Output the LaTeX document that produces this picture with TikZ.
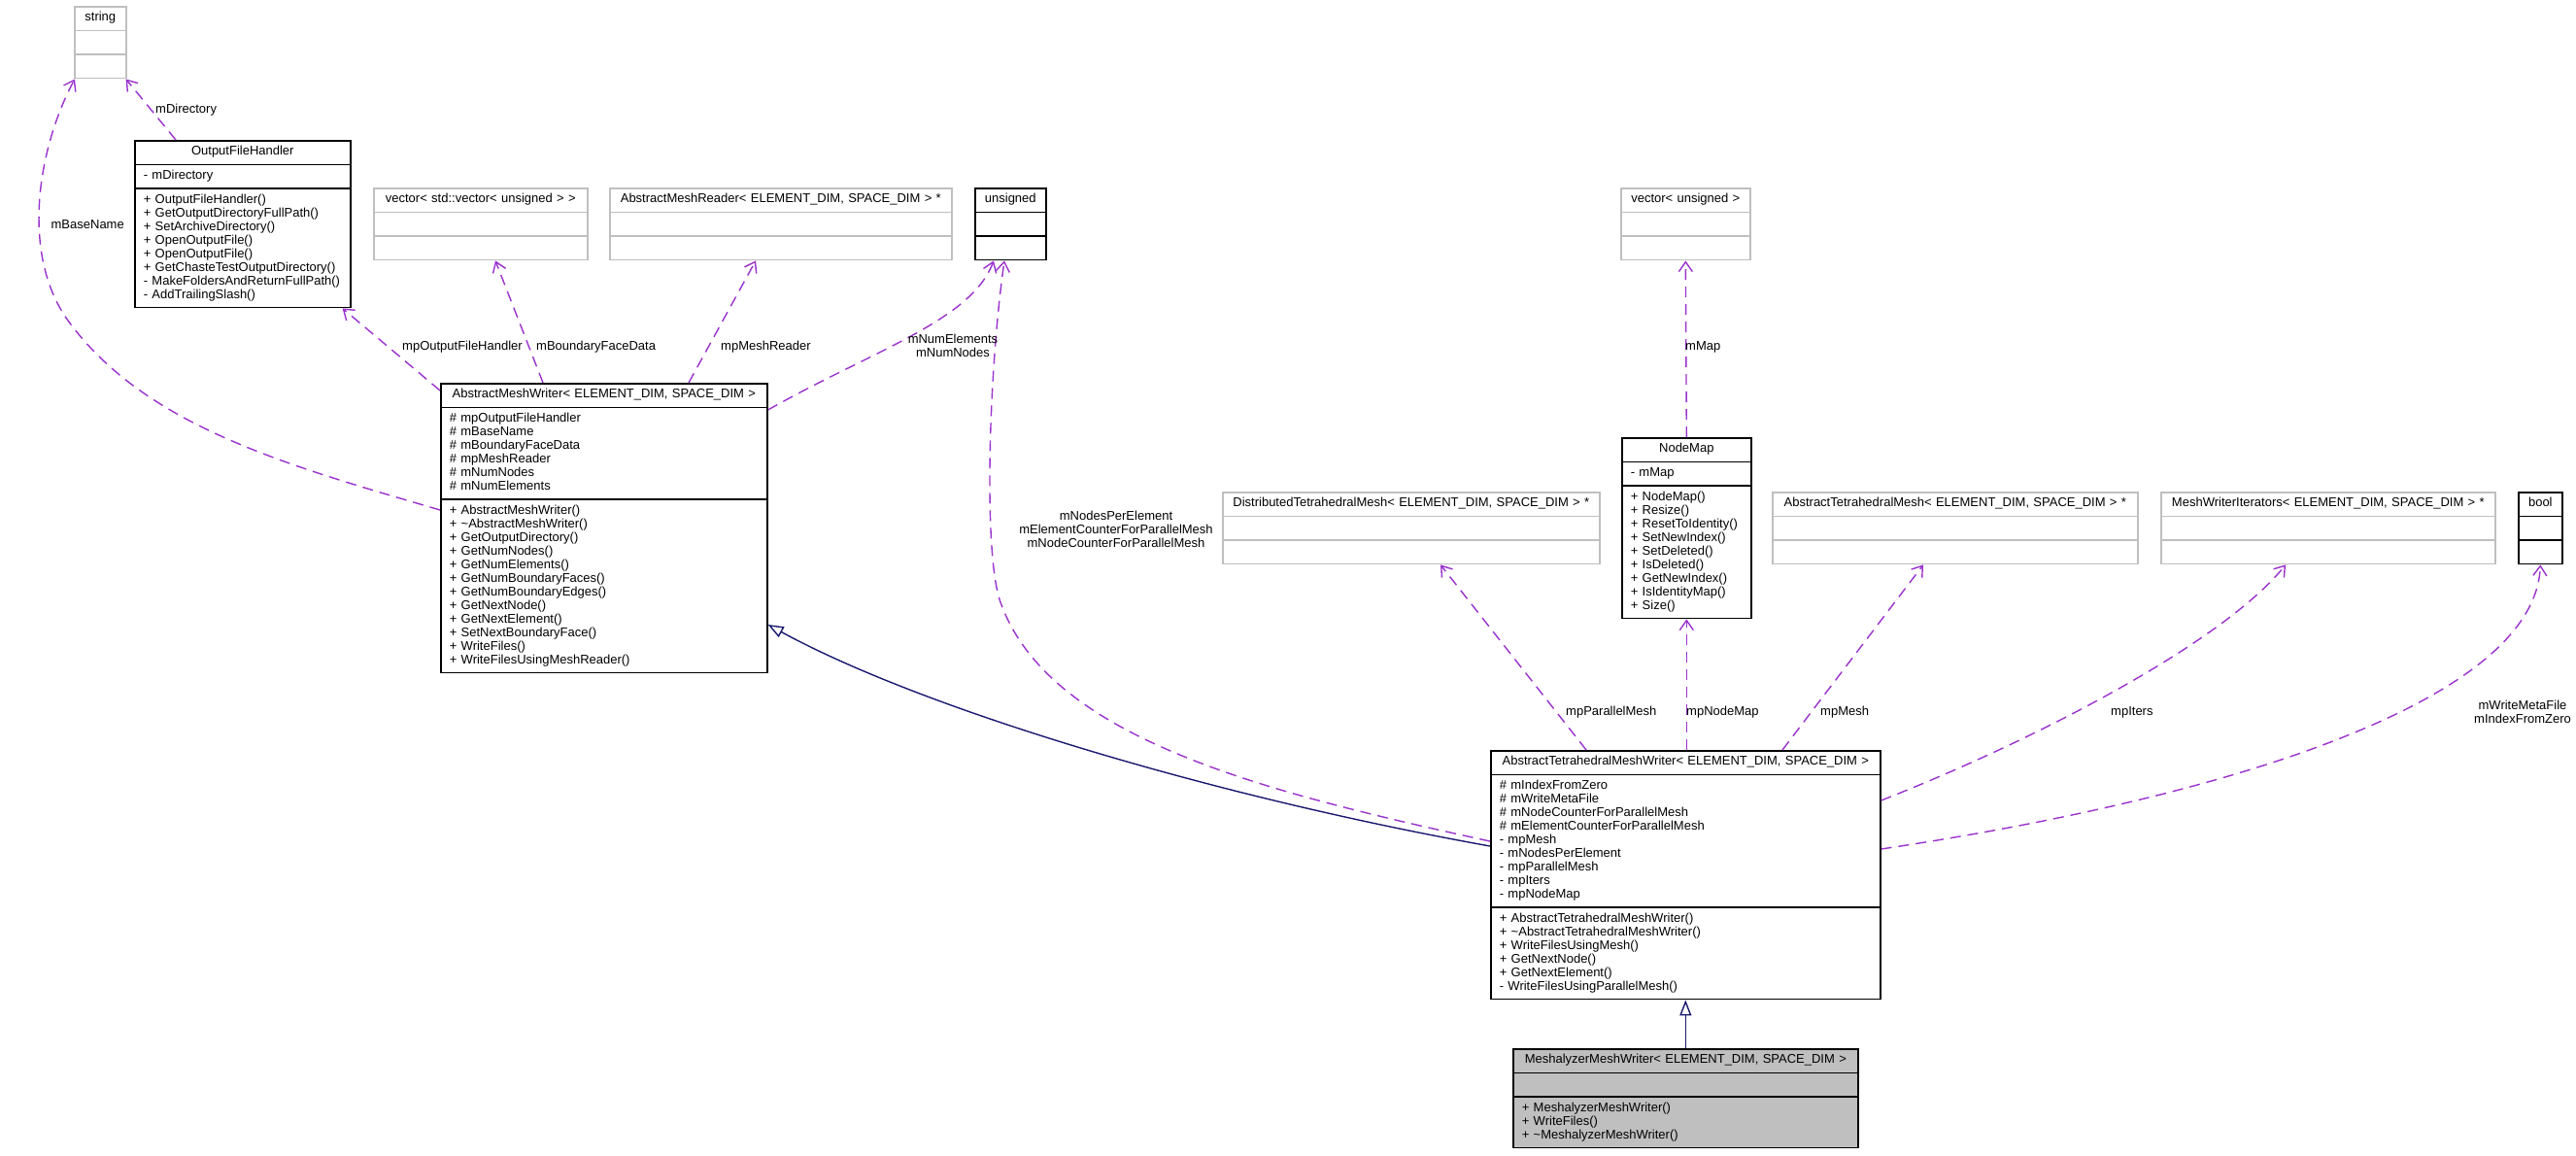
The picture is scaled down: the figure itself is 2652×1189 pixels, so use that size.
\documentclass[tikz,border=0pt]{standalone}
\usepackage{fontspec}
\setmainfont{Liberation Sans}
\usetikzlibrary{shapes.multipart, arrows.meta, calc}

\definecolor{relpurple}{RGB}{154,50,205}
\definecolor{inhnavy}{RGB}{25,25,112}
\definecolor{extgray}{RGB}{191,191,191}
\definecolor{selfgray}{RGB}{191,191,191}

\newcommand{\umltitle}[1]{\strut\hfill\mbox{#1}\hfill\strut}
\newcommand{\umlpart}[1]{\strut#1\strut}

\begin{document}
\begin{tikzpicture}[
		x=1pt, y=-1pt,
		umlfont/.style={font=\fontsize{13pt}{14pt}\selectfont},
		cls/.style={umlfont, draw=black, line width=1.6pt, fill=white, rectangle split, rectangle split parts=3, anchor=north west, inner xsep=9pt, inner ysep=4.5pt, align=left},
		extcls/.style={cls, draw=extgray},
		lbl/.style={umlfont, align=center, inner sep=0pt},
		rel/.style={relpurple, line width=1.4pt, dash pattern=on 11pt off 7pt, -{Straight Barb[length=10pt,width=14pt]}},
		inh/.style={inhnavy, line width=1.4pt, -{Triangle[open, length=16pt, width=12pt, fill=white]}}
		]
		\useasboundingbox (0,0) rectangle (2652,1189);
		
		% Classes
		\node[extcls, text width=35pt] (str) at (76,6) {\umltitle{string}\nodepart{second}\strut\nodepart{third}\strut};
		
		\node[cls, text width=204pt] (ofh) at (138,144) {\umltitle{OutputFileHandler}
			\nodepart{second}\umlpart{-~mDirectory}
			\nodepart{third}\umlpart{+~OutputFileHandler()\\+~GetOutputDirectoryFullPath()\\+~SetArchiveDirectory()\\+~OpenOutputFile()\\+~OpenOutputFile()\\+~GetChasteTestOutputDirectory()\\-~MakeFoldersAndReturnFullPath()\\-~AddTrailingSlash()}};
		
		\node[extcls, text width=202pt] (vecvec) at (384,193) {\umltitle{vector< std::vector< unsigned > >}\nodepart{second}\strut\nodepart{third}\strut};
		
		\node[extcls, text width=334pt] (amr) at (627,193) {\umltitle{AbstractMeshReader< ELEMENT\_DIM, SPACE\_DIM > *}\nodepart{second}\strut\nodepart{third}\strut};
		
		\node[cls, text width=55pt] (unsig) at (1003,193) {\umltitle{unsigned}\nodepart{second}\strut\nodepart{third}\strut};
		
		\node[extcls, text width=115pt] (vecu) at (1668,193) {\umltitle{vector< unsigned >}\nodepart{second}\strut\nodepart{third}\strut};
		
		\node[cls, text width=318pt] (amw) at (453,394) {\umltitle{AbstractMeshWriter< ELEMENT\_DIM, SPACE\_DIM >}
			\nodepart{second}\umlpart{\#~mpOutputFileHandler\\\#~mBaseName\\\#~mBoundaryFaceData\\\#~mpMeshReader\\\#~mNumNodes\\\#~mNumElements}
			\nodepart{third}\umlpart{+~AbstractMeshWriter()\\+~\textasciitilde AbstractMeshWriter()\\+~GetOutputDirectory()\\+~GetNumNodes()\\+~GetNumElements()\\+~GetNumBoundaryFaces()\\+~GetNumBoundaryEdges()\\+~GetNextNode()\\+~GetNextElement()\\+~SetNextBoundaryFace()\\+~WriteFiles()\\+~WriteFilesUsingMeshReader()}};
		
		\node[cls, text width=115pt] (nodemap) at (1669,450) {\umltitle{NodeMap}
			\nodepart{second}\umlpart{-~mMap}
			\nodepart{third}\umlpart{+~NodeMap()\\+~Resize()\\+~ResetToIdentity()\\+~SetNewIndex()\\+~SetDeleted()\\+~IsDeleted()\\+~GetNewIndex()\\+~IsIdentityMap()\\+~Size()}};
		
		\node[extcls, text width=370pt] (dtm) at (1258,506) {\umltitle{DistributedTetrahedralMesh< ELEMENT\_DIM, SPACE\_DIM > *}\nodepart{second}\strut\nodepart{third}\strut};
		
		\node[extcls, text width=358pt] (atm) at (1824,506) {\umltitle{AbstractTetrahedralMesh< ELEMENT\_DIM, SPACE\_DIM > *}\nodepart{second}\strut\nodepart{third}\strut};
		
		\node[extcls, text width=326pt] (mwi) at (2224,506) {\umltitle{MeshWriterIterators< ELEMENT\_DIM, SPACE\_DIM > *}\nodepart{second}\strut\nodepart{third}\strut};
		
		\node[cls, text width=27pt] (bool) at (2592,506) {\umltitle{bool}\nodepart{second}\strut\nodepart{third}\strut};
		
		\node[cls, text width=383pt] (atmw) at (1534,772) {\umltitle{AbstractTetrahedralMeshWriter< ELEMENT\_DIM, SPACE\_DIM >}
			\nodepart{second}\umlpart{\#~mIndexFromZero\\\#~mWriteMetaFile\\\#~mNodeCounterForParallelMesh\\\#~mElementCounterForParallelMesh\\-~mpMesh\\-~mNodesPerElement\\-~mpParallelMesh\\-~mpIters\\-~mpNodeMap}
			\nodepart{third}\umlpart{+~AbstractTetrahedralMeshWriter()\\+~\textasciitilde AbstractTetrahedralMeshWriter()\\+~WriteFilesUsingMesh()\\+~GetNextNode()\\+~GetNextElement()\\-~WriteFilesUsingParallelMesh()}};
		
		\node[cls, fill=selfgray, text width=337pt] (mmw) at (1557,1079) {\umltitle{MeshalyzerMeshWriter< ELEMENT\_DIM, SPACE\_DIM >}
			\nodepart{second}\strut
			\nodepart{third}\umlpart{+~MeshalyzerMeshWriter()\\+~WriteFiles()\\+~\textasciitilde MeshalyzerMeshWriter()}};
		
		% Inheritance
		\draw[inh] (mmw.north) -- (mmw.north |- atmw.south);
		\draw[inh] ($(atmw.north west)+(0,99)$) .. controls (1250,820) and (950,730) .. ($(amw.north east)+(0,249)$);
		
		% Members
		\draw[rel] ($(ofh.north west)+(43,0)$) -- ($(str.south east)+(-1,0)$);
		\draw[rel] ($(amw.north west)+(0,131)$) .. controls (300,480) and (150,440) .. (70,330) .. controls (20,260) and (40,150) .. ($(str.south west)+(1,0)$);
		\draw[rel] ($(amw.north west)+(0,8)$) -- ($(ofh.south east)+(-9,0)$);
		\draw[rel] ($(amw.north west)+(106,0)$) -- ($(vecvec.south west)+(126,0)$);
		\draw[rel] ($(amw.north west)+(256,0)$) -- ($(amr.south west)+(151,0)$);
		\draw[rel] ($(amw.north east)+(0,28)$) .. controls (900,360) and (1000,330) .. ($(unsig.south west)+(20,0)$);
		\draw[rel] ($(atmw.north west)+(0,94)$) .. controls (1300,815) and (1080,760) .. (1030,620) .. controls (1012,570) and (1018,380) .. ($(unsig.south west)+(31,0)$);
		\draw[rel] (nodemap.north) -- (vecu.south);
		\draw[rel] ($(atmw.north west)+(99,0)$) -- ($(dtm.south west)+(225,0)$);
		\draw[rel] (nodemap.south |- atmw.north) -- (nodemap.south);
		\draw[rel] ($(atmw.north west)+(301,0)$) -- ($(atm.south west)+(156,0)$);
		\draw[rel] ($(atmw.north east)+(0,52)$) .. controls (2100,760) and (2290,660) .. ($(mwi.south west)+(129,0)$);
		\draw[rel] ($(atmw.north east)+(0,102)$) .. controls (2300,820) and (2610,720) .. (bool.south);
		
		% Labels
		\node[lbl, anchor=west] (ldir) at (160,113) {mDirectory};
		\node[lbl, anchor=east] (lbase) at (128,231) {mBaseName};
		\node[lbl, anchor=west] (lofh) at (414,357) {mpOutputFileHandler};
		\node[lbl, anchor=west] (lbfd) at (552,357) {mBoundaryFaceData};
		\node[lbl, anchor=west] (lamr) at (742,357) {mpMeshReader};
		\node[lbl] (lnum) at (981,356) {mNumElements\\mNumNodes};
		\node[lbl, anchor=west] (lmap) at (1735,357) {mMap};
		\node[lbl] (lcount) at (1149,545) {mNodesPerElement\\mElementCounterForParallelMesh\\mNodeCounterForParallelMesh};
		\node[lbl, anchor=west] (lpar) at (1612,733) {mpParallelMesh};
		\node[lbl, anchor=west] (lnm) at (1736,733) {mpNodeMap};
		\node[lbl, anchor=west] (lmesh) at (1874,733) {mpMesh};
		\node[lbl, anchor=west] (liters) at (2173,733) {mpIters};
		\node[lbl] (lbool) at (2597,733) {mWriteMetaFile\\mIndexFromZero};
		
	\end{tikzpicture}
\end{document}
